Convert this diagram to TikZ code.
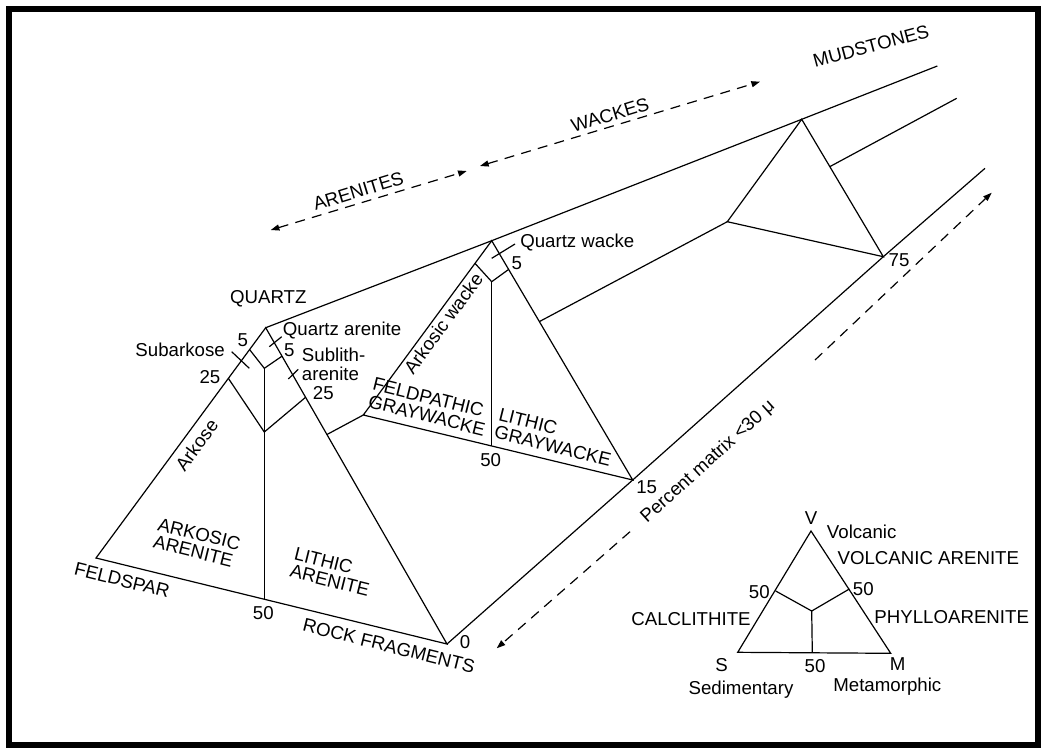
\documentclass[tikz,border=0pt]{standalone}
\usepackage{fontspec}
\setmainfont{Liberation Sans}
\usetikzlibrary{arrows.meta,calc}
\begin{document}
\begin{tikzpicture}[x=0.75pt,y=-0.75pt,
  ln/.style={line width=0.9pt, line join=miter},
  lbl/.style={font=\fontsize{14}{13.5}\selectfont, inner sep=0pt},
  dsh/.style={line width=0.9pt, dash pattern=on 7.5pt off 5.5pt},
  >={Triangle[length=6.5pt,width=4.5pt]}]
\useasboundingbox (0,0) rectangle (1041,747);
% frame
\draw[line width=4.5pt] (9,9) rectangle (1037.5,744.5);

% main vertices
\coordinate (Q1) at (265.7,327.7);
\coordinate (F1) at (96,558);
\coordinate (R1) at (447,644);
\coordinate (Q2) at (491.7,240.7);
\coordinate (F2) at (363.3,415);
\coordinate (R2) at (632.7,480);
\coordinate (Q3) at (801.7,119.3);
\coordinate (F3) at (727.3,221.7);
\coordinate (R3) at (883.3,256.7);
\coordinate (Qe) at (937.3,66);
\coordinate (Fe) at (956.7,98.3);
\coordinate (Re) at (985,168.3);
\coordinate (X1) at (intersection of Q1--R1 and F1--F2);
\coordinate (X2) at (intersection of Q2--R2 and F2--F3);
\coordinate (X3) at (intersection of Q3--R3 and F3--Fe);

% triangles
\draw[ln] (Q1) -- (F1) -- (R1) -- cycle;
\draw[ln] (Q2) -- (F2) -- (R2) -- cycle;
\draw[ln] (Q3) -- (F3) -- (R3) -- cycle;
% prism edges
\draw[ln] (Q1) -- (Q2) -- (Q3) -- (Qe);
\draw[ln] (X1) -- (F2);
\draw[ln] (X2) -- (F3);
\draw[ln] (X3) -- (Fe);
\draw[ln] (R1) -- (R2) -- (R3) -- (Re);

% inner lines triangle 1
\coordinate (a5) at ($(Q1)!0.095!(F1)$);
\coordinate (b5) at ($(Q1)!0.09!(R1)$);
\coordinate (a25) at ($(Q1)!0.22!(F1)$);
\coordinate (b25) at ($(Q1)!0.22!(R1)$);
\coordinate (J1) at (264.3,368.3);
\coordinate (J2) at (264.3,432);
\coordinate (M1) at (264.3,599.3);
\draw[ln] (a5) -- (J1) -- (b5);
\draw[ln] (a25) -- (J2) -- (b25);
\draw[ln] (J1) -- (M1);

% inner lines triangle 2
\coordinate (c5) at ($(Q2)!0.13!(F2)$);
\coordinate (d5) at ($(Q2)!0.12!(R2)$);
\coordinate (J3) at (491.7,281.7);
\coordinate (M2) at (491.7,446);
\draw[ln] (c5) -- (J3) -- (d5);
\draw[ln] (J3) -- (M2);

% leader ticks
\coordinate (t1a) at (231.7,351.7); \coordinate (t1b) at (249.3,368.3);
\coordinate (t2a) at (269.3,346.7); \coordinate (t2b) at (281.7,336.7);
\coordinate (t3a) at (288.3,379);   \coordinate (t3b) at (298.3,369.3);
\coordinate (t4a) at (491.7,258.3); \coordinate (t4b) at (515,244);
\draw[ln] (t1a) -- (t1b);
\draw[ln] (t2a) -- (t2b);
\draw[ln] (t3a) -- (t3b);
\draw[ln] (t4a) -- (t4b);

% dashed arrows
\coordinate (A1) at (270.7,230); \coordinate (A2) at (466.7,171);
\coordinate (W1) at (480,166);   \coordinate (W2) at (760,81.7);
\coordinate (P1) at (630,531.7); \coordinate (P2) at (496.7,648.3);
\coordinate (P3) at (815,360);   \coordinate (P4) at (991.7,192.7);
\draw[dsh,<->] (A1) -- (A2);
\draw[dsh,<->] (W1) -- (W2);
\draw[dsh,->] (P1) -- (P2);
\draw[dsh,->] (P3) -- (P4);

% labels
\node[lbl] (lmud) at (871,46) [rotate=15] {MUDSTONES};
\node[lbl] (lwac) at (610,115) [rotate=17] {WACKES};
\node[lbl] (lare) at (358.3,191) [rotate=17] {ARENITES};
\node[lbl] (lqtz) at (268.3,298.3) {QUARTZ};
\node[lbl,anchor=west] (lqa) at (282.7,330) {Quartz arenite};
\node[lbl] (l5a) at (242.7,340) {5};
\node[lbl,anchor=east] (lsub) at (225,350) {Subarkose};
\node[lbl] (l25a) at (210,376.7) {25};
\node[lbl] (l5b) at (289.3,350) {5};
\node[lbl,anchor=north west,align=left] (lsl) at (301.7,347.5) {Sublith-\\[1pt]arenite};
\node[lbl] (l25b) at (323.3,393.3) {25};
\node[lbl] (lark) at (196.7,445) [rotate=53.6] {Arkose};
\node[lbl,align=left] (lka) at (197,542.7) [rotate=-14] {ARKOSIC\\ARENITE};
\node[lbl,align=left] (lla) at (332,571.7) [rotate=-14] {LITHIC\\ARENITE};
\node[lbl] (lfel) at (122,580) [rotate=-14] {FELDSPAR};
\node[lbl] (l50a) at (263.3,613.3) {50};
\node[lbl] (lrf) at (389,646) [rotate=-14] {ROCK FRAGMENTS};
\node[lbl] (l0) at (465,641.7) {0};
\node[lbl] (law) at (443.3,323.3) [rotate=53.6] {Arkosic wacke};
\node[lbl,anchor=west] (lqw) at (520,242.7) {Quartz wacke};
\node[lbl] (l5c) at (516.7,263.3) {5};
\node[lbl,align=left] (lfg) at (429,406.7) [rotate=-14] {FELDPATHIC\\GRAYWACKE};
\node[lbl,align=left] (llg) at (555,437.3) [rotate=-14] {LITHIC\\GRAYWACKE};
\node[lbl] (l50b) at (490.7,460) {50};
\node[lbl] (l15) at (646.7,486.7) {15};
\node[lbl] (l75) at (899,260) {75};
\node[lbl] (lpm) at (708,462) [rotate=42] {Percent matrix <30 μ};

% small triangle
\coordinate (V) at (811,531);
\coordinate (S) at (737.7,652.3);
\coordinate (M) at (890.7,653.3);
\coordinate (v1) at (775.7,591);
\coordinate (v2) at (849.3,589);
\coordinate (vj) at (811.7,611);
\coordinate (v3) at (812.3,652.8);
\draw[ln] (V) -- (S) -- (M) -- cycle;
\draw[ln] (v1) -- (vj) -- (v2);
\draw[ln] (vj) -- (v3);
\node[lbl] (lV) at (811,517.7) {V};
\node[lbl] (lvol) at (861.7,531.7) {Volcanic};
\node[lbl] (lva) at (928.3,557.7) {VOLCANIC ARENITE};
\node[lbl] (l50c) at (759.3,591.7) {50};
\node[lbl] (l50d) at (863.3,589.3) {50};
\node[lbl] (lcal) at (691,619.3) {CALCLITHITE};
\node[lbl] (lphy) at (951.7,617.3) {PHYLLOARENITE};
\node[lbl] (lS) at (721.7,665) {S};
\node[lbl] (l50e) at (815,666) {50};
\node[lbl] (lM) at (897.7,664.3) {M};
\node[lbl] (lsed) at (741,690) {Sedimentary};
\node[lbl] (lmet) at (887.3,686.7) {Metamorphic};
\end{tikzpicture}
\end{document}
